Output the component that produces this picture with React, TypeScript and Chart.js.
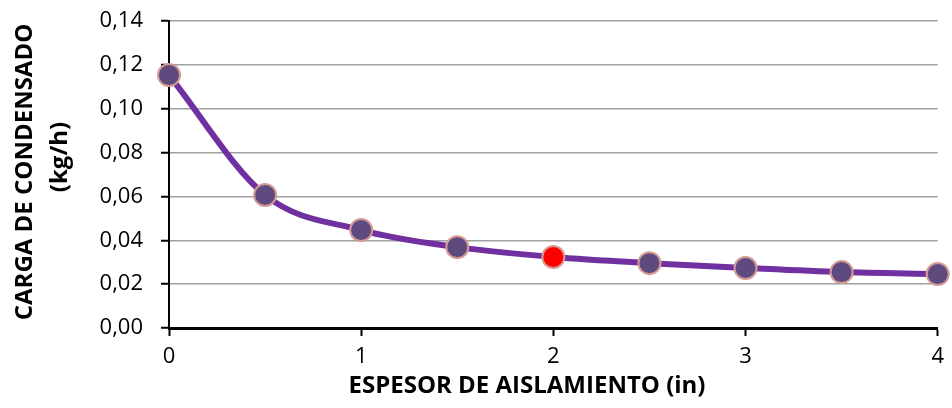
import React, { useEffect, useRef } from "react";
import { Chart, registerables } from "chart.js";

Chart.register(...registerables);

const xValues = [0, 0.5, 1, 1.5, 2, 2.5, 3, 3.5, 4];
const yValues = [0.1154, 0.0607, 0.0447, 0.0369, 0.0324, 0.0296, 0.0274, 0.0255, 0.0246];
const highlightIndex = 4;
const xTitle = "ESPESOR DE AISLAMIENTO (in)";
const yTitle = ["CARGA DE CONDENSADO", "(kg/h)"];

const FONT = "'Open Sans', sans-serif";
const SHIFT = 10;

const titlesPlugin = {
  id: "titles",
  afterDraw(chart: any) {
    const ctx = chart.ctx as CanvasRenderingContext2D;
    ctx.save();
    ctx.fillStyle = "#000";
    ctx.font = `bold 24px ${FONT}`;
    ctx.textAlign = "center";
    ctx.textBaseline = "middle";
    ctx.fillText(xTitle, 527, 386 + SHIFT);
    ctx.translate(25, 172 + SHIFT);
    ctx.rotate(-Math.PI / 2);
    ctx.fillText(yTitle[0], 0, 0);
    ctx.fillText(yTitle[1], 15, 35);
    ctx.restore();
  },
};

export default function App() {
  const ref = useRef<HTMLCanvasElement | null>(null);
  useEffect(() => {
    document.body.style.margin = "0";
    const ctx = ref.current!;
    const fill = xValues.map((_, i) => (i === highlightIndex ? "#ff0000" : "#5f4a7f"));
    const chart = new Chart(ctx, {
      type: "line",
      data: {
        datasets: [
          {
            data: xValues.map((x, i) => ({ x, y: yValues[i] })),
            borderColor: "#7030a0",
            borderWidth: 6,
            cubicInterpolationMode: "monotone",
            pointRadius: 11,
            pointBackgroundColor: fill,
            pointBorderColor: "#d49a94",
            pointBorderWidth: 2,
            clip: false as any,
          },
        ],
      },
      options: {
        animation: false,
        responsive: false,
        layout: { padding: { left: 0, right: 11, top: 7, bottom: 0 } },
        plugins: { legend: { display: false }, tooltip: { enabled: false } },
        scales: {
          x: {
            type: "linear",
            min: 0,
            max: 4,
            ticks: { stepSize: 1, color: "#000", font: { family: FONT, size: 22 }, padding: 8 },
            grid: { drawOnChartArea: false, drawTicks: true, tickLength: 8, tickColor: "#000", tickWidth: 2 },
            border: { color: "#000", width: 3 },
            afterFit: (s: any) => {
              s.height = 80;
            },
          },
          y: {
            min: 0,
            max: 0.14,
            ticks: {
              stepSize: 0.02,
              color: "#000",
              font: { family: FONT, size: 22 },
              padding: 18,
              callback: (v: any) => Number(v).toFixed(2).replace(".", ","),
            },
            grid: { color: "#a0a0a0", lineWidth: 1.5, tickLength: 8, tickColor: "#000", tickWidth: 2 },
            border: { color: "#000", width: 2 },
            afterFit: (s: any) => {
              s.width = 169;
            },
          },
        },
      },
      plugins: [titlesPlugin],
    } as any);
    return () => chart.destroy();
  }, []);
  return (
    <canvas
      ref={ref}
      width={952}
      height={408 + SHIFT}
      style={{ display: "block", marginTop: -SHIFT }}
    />
  );
}
